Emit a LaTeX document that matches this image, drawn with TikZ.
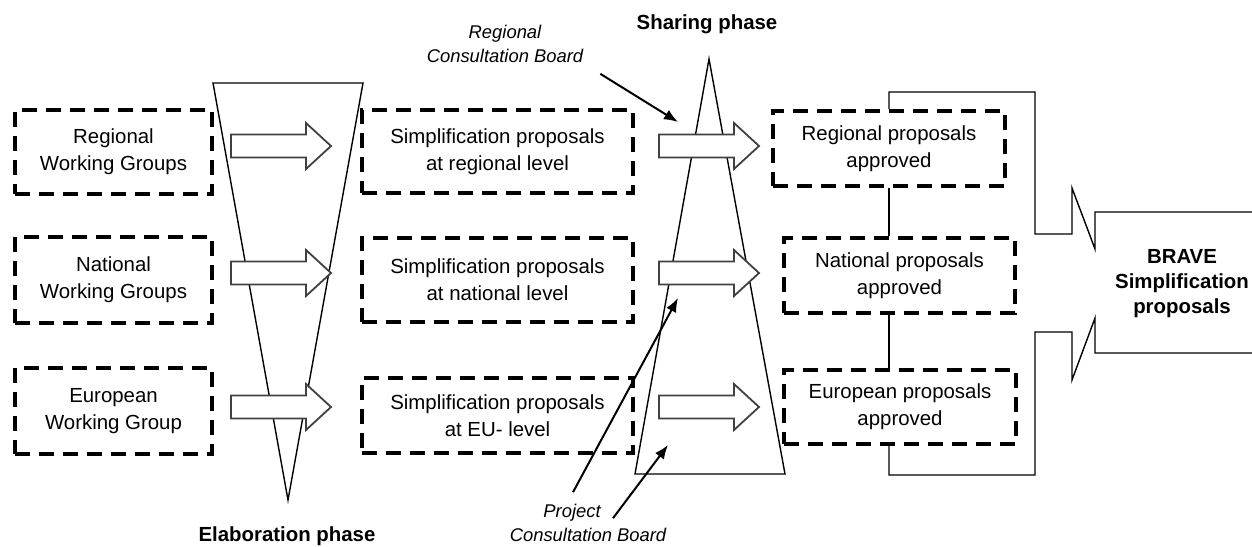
\documentclass[tikz,border=0pt]{standalone}
\usepackage{fontspec}
\setmainfont{Liberation Sans}
\usetikzlibrary{arrows.meta}

\tikzset{
  dashbox/.style={draw, line width=2pt, dash pattern=on 7.5pt off 4.5pt, align=center, inner sep=0pt, font=\fontsize{10.2}{13.5}\selectfont},
  phase/.style={font=\fontsize{10.2}{12}\selectfont\bfseries},
  board/.style={align=center, font=\fontsize{9.2}{12}\selectfont\itshape},
  frameline/.style={line width=0.7pt},
  funnel/.style={line width=0.7pt},
  arrline/.style={draw=black!75, fill=white, line width=0.9pt},
  pointer/.style={line width=1pt, -{Latex[length=7pt,width=5.5pt]}},
  blockarr/.pic={\draw[arrline] (0,-11.5) -- (75,-11.5) -- (75,-23) -- (100,0) -- (75,23) -- (75,11.5) -- (0,11.5) -- cycle;}
}

\begin{document}
\begin{tikzpicture}[x=0.5pt, y=-0.5pt]
  \useasboundingbox (0,0) rectangle (1252,546);

  % funnels
  \draw[funnel] (213,83) -- (363,83) -- (288,500) -- cycle;
  \draw[funnel] (709,59) -- (785,474) -- (635,474) -- cycle;

  % working groups
  \node[dashbox, minimum width=98.5pt, minimum height=42pt] (rwg) at (113.5,152) {Regional\\Working Groups};
  \node[dashbox, minimum width=98.5pt, minimum height=43pt] (nwg) at (113.5,280) {National\\Working Groups};
  \node[dashbox, minimum width=98.5pt, minimum height=43pt] (ewg) at (113.5,411) {European\\Working Group};

  % proposals
  \node[dashbox, minimum width=135.5pt, minimum height=41.5pt] (rsp) at (497.5,151.5) {Simplification proposals\\at regional level};
  \node[dashbox, minimum width=135.5pt, minimum height=42pt] (nsp) at (497.5,280) {Simplification proposals\\at national level};
  \node[dashbox, minimum width=135.5pt, minimum height=37.5pt] (esp) at (497.5,415.5) {Simplification proposals\\at EU- level};

  % approved
  \node[dashbox, minimum width=116pt, minimum height=37.5pt] (rpa) at (889,148.5) {Regional proposals\\approved};
  \node[dashbox, minimum width=115.5pt, minimum height=37.5pt] (npa) at (899.5,275.5) {National proposals\\approved};
  \node[dashbox, minimum width=116pt, minimum height=37pt] (epa) at (900,407) {European proposals\\approved};

  \foreach \y in {146,273,407} {
    \pic at (231,\y) {blockarr};
    \pic at (659,\y) {blockarr};
  }

  % final output
  \node[font=\fontsize{10.2}{12.5}\selectfont\bfseries, align=center] (brave) at (1182,284) {BRAVE\\Simplification\\proposals};
  \draw[frameline] (rpa.north) |- (1035,92) -- (1035,234) -- (1072,234) -- (1072,188) -- (1095,249) -- (1095,212) -- (1252,212);
  \draw[frameline] (1252,353) -- (1095,353) -- (1095,318) -- (1072,380) -- (1072,332) -- (1035,332) -- (1035,475) -| (epa.south -| rpa.north);
  \draw[frameline] (rpa.south) -- (rpa.south |- npa.north);
  \draw[frameline] (rpa.south |- npa.south) -- (rpa.south |- epa.north);

  % labels
  \node[phase, anchor=base] (elab) at (287,541) {Elaboration phase};
  \node[phase, anchor=base] (share) at (707,29) {Sharing phase};
  \node[board] (rcb) at (505,44) {Regional\\Consultation Board};
  \node[board] (pcb) at (588,523) {Project\hspace*{16pt}\\Consultation Board};

  \coordinate (rcbtip) at (678,122);
  \coordinate (pcbtipa) at (678,298);
  \coordinate (pcbtipb) at (668,445);
  \draw[pointer] ([xshift=5pt,yshift=-2pt]rcb.south east) -- (rcbtip);
  \draw[pointer] ([xshift=-7.5pt,yshift=2.5pt]pcb.north) -- (pcbtipa);
  \draw[pointer] ([xshift=12.5pt,yshift=-10.5pt]pcb.north) -- (pcbtipb);
\end{tikzpicture}
\end{document}
